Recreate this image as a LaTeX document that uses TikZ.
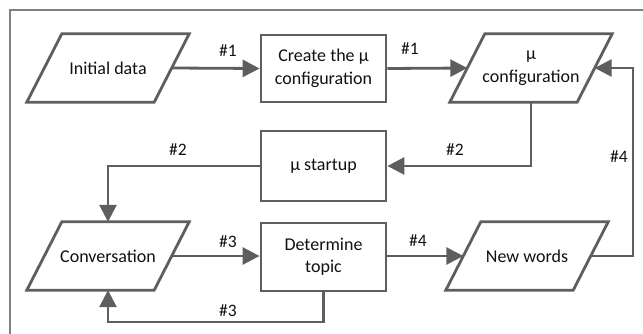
\documentclass[tikz,border=0pt]{standalone}
\usepackage{fontspec}
\setmainfont{Carlito}
\usetikzlibrary{arrows.meta}
\definecolor{lc}{HTML}{5E5E5E}
\definecolor{fc}{HTML}{808080}
\definecolor{tc}{HTML}{111111}
\tikzset{
  shapeline/.style={draw=lc, line width=2.8pt, line join=miter},
  boxnode/.style={shapeline, fill=white, text=tc, align=center, font=\fontsize{18}{22.5}\selectfont, inner sep=0pt},
  paranode/.style={draw=none, text=tc, align=center, font=\fontsize{18}{22.5}\selectfont, inner sep=0pt, minimum width=127pt, minimum height=68pt},
  conn/.style={draw=lc, line width=2.8pt, -{Triangle[length=17pt,width=17pt]}},
  lbl/.style={text=tc, font=\fontsize{17.5}{20}\selectfont, inner sep=0pt},
}
\newcommand{\mypara}[4]{%
  \node[paranode] (#1) at (#2,#3) {#4};
  \draw[shapeline] ([xshift=17.5pt]#1.north west) -- ([xshift=17.5pt]#1.north east)
    -- ([xshift=-17.5pt]#1.south east) -- ([xshift=-17.5pt]#1.south west) -- cycle;
}
\begin{document}
\begin{tikzpicture}[x=1pt,y=-1pt]
\useasboundingbox (0,0) rectangle (643,334);
% frame
\draw[fc, line width=1.4pt] (10,334) -- (10,10) -- (643,10);
% nodes
\mypara{ini}{108}{68}{Initial data}
\node[boxnode, minimum width=125pt, minimum height=67pt] (create) at (323.5,68.5) {Create the µ\\configuration};
\mypara{conf}{531}{68}{µ\\configuration}
\node[boxnode, minimum width=125pt, minimum height=70pt] (startup) at (323.5,166) {µ startup};
\mypara{conv}{108}{256}{Conversation}
\node[boxnode, minimum width=125pt, minimum height=68pt] (det) at (323.5,257) {Determine\\topic};
\mypara{new}{527}{256}{New words}
\coordinate (rc) at (633,160);
\coordinate (bc) at (200,322);
% connectors
\draw[conn] (ini.east) -- (create.west);
\draw[conn] (create.east) -- (conf.west);
\draw[conn] (conf.south) |- (startup.east);
\draw[conn] (startup.west) -| (conv.north);
\draw[conn] (conv.east) -- (create.west |- conv.east);
\draw[conn] (det.east |- new.west) -- (new.west);
\draw[conn] (new.east) -| (rc) |- (conf.east);
\draw[conn] (det.south) |- (bc) -| (conv.south);
% labels
\node[lbl] (l1) at (228,51) {\#1};
\node[lbl] (l2) at (410,49) {\#1};
\node[lbl] (l3) at (455,150) {\#2};
\node[lbl] (l4) at (178,150) {\#2};
\node[lbl] (l5) at (228,242) {\#3};
\node[lbl] (l6) at (418,241) {\#4};
\node[lbl] (l7) at (619,157) {\#4};
\node[lbl] (l8) at (228,311) {\#3};
\end{tikzpicture}
\end{document}
